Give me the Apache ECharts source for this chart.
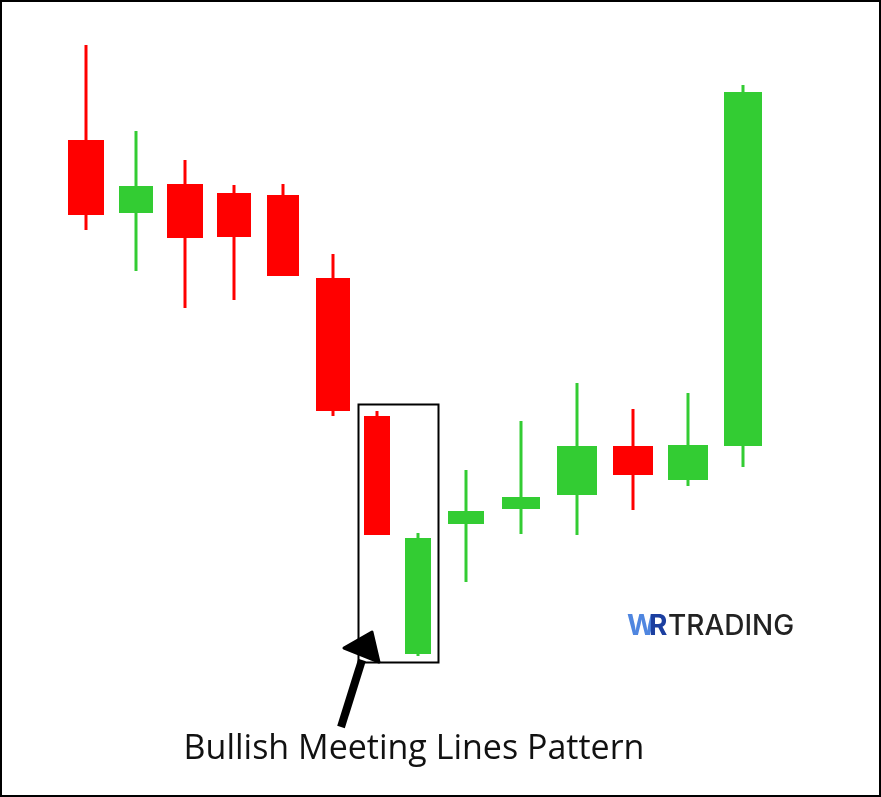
<!DOCTYPE html>
<html><head><meta charset="utf-8">
<script src="https://cdn.jsdelivr.net/npm/echarts@6/dist/echarts.min.js"></script>
<style>html,body{margin:0;padding:0;background:#fff}#c{width:881px;height:797px}</style>
</head><body><div id="c"></div>
<script>
const positions = [86,136,185,234,283,333,377,418,466,521,577,633,688,743];
const opens  = [660,587,616,607,605,522,384,146,276,291,305,354,320,354];
const closes = [585,614,562,563,524,389,265,262,289,303,354,325,355,708];
const lows   = [570,529,492,500,524,384,265,144,218,266,265,290,314,333];
const highs  = [755,669,640,615,616,546,389,267,330,379,417,391,407,715];
const widths = [36,34,36,34,32,34,26,26,36,38,40,40,40,38];
const data = positions.map((x,i)=>[x,opens[i],closes[i],lows[i],highs[i],widths[i]]);
const chart = echarts.init(document.getElementById('c'));
chart.setOption({
  animation:false,
  grid:{left:0,right:0,top:0,bottom:0},
  xAxis:{type:'value',min:0,max:881,show:false},
  yAxis:{type:'value',min:3,max:800,show:false},
  series:[{type:'custom',data:data,renderItem:function(params,api){
    const x=api.value(0),o=api.value(1),c=api.value(2),l=api.value(3),h=api.value(4),w=api.value(5);
    const col = c>=o ? '#33cc33' : '#ff0000';
    const pO=api.coord([x,o]),pC=api.coord([x,c]),pL=api.coord([x,l]),pH=api.coord([x,h]);
    return {type:'group',children:[
      {type:'rect',shape:{x:pO[0]-1.5,y:pH[1],width:3,height:pL[1]-pH[1]},style:{fill:col}},
      {type:'rect',shape:{x:pO[0]-w/2,y:Math.min(pO[1],pC[1]),width:w,height:Math.abs(pO[1]-pC[1])},style:{fill:col}}
    ]};
  }}],
  graphic:[
    {type:'rect',shape:{x:1,y:1,width:879,height:795},style:{fill:'none',stroke:'#000',lineWidth:2}},
    {type:'rect',shape:{x:358.5,y:404.5,width:80,height:258},style:{fill:'none',stroke:'#000',lineWidth:2}},
    {type:'line',shape:{x1:341,y1:727,x2:362,y2:660},style:{stroke:'#000',lineWidth:8}},
    {type:'polygon',shape:{points:[[344,648],[372,632],[379,662]]},style:{fill:'#000',stroke:'#000',lineWidth:3,lineJoin:'round'}},
    {type:'text',x:414,y:749,style:{text:'Bullish Meeting Lines Pattern',font:'34px "Open Sans", sans-serif',fill:'#111',textAlign:'center',textVerticalAlign:'middle'}},
    {type:'text',x:627,y:627,style:{text:'W',font:'bold 28px Inter, sans-serif',fill:'#4f86e0',textVerticalAlign:'middle'}},
    {type:'text',x:649,y:627,style:{text:'R',font:'bold 28px Inter, sans-serif',fill:'#1b3fa0',textVerticalAlign:'middle'}},
    {type:'text',x:668,y:627,style:{text:'TRADING',font:'500 28px Inter, sans-serif',fill:'#222',textVerticalAlign:'middle'}}
  ]
});
</script></body></html>
